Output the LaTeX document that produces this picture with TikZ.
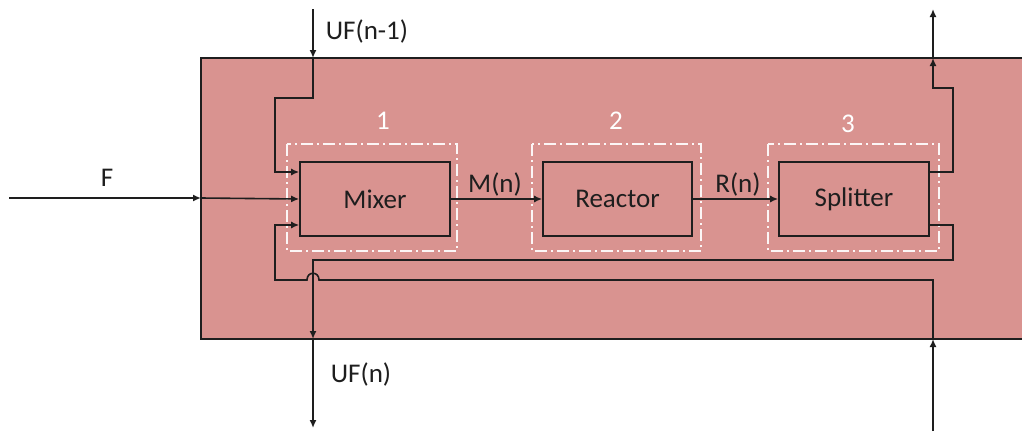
\documentclass[tikz,border=0pt]{standalone}
\usepackage{fontspec}
\setmainfont{Carlito}
\usetikzlibrary{arrows.meta}
\definecolor{boxfill}{RGB}{217,147,144}
\definecolor{ink}{RGB}{30,30,30}
\begin{document}
\begin{tikzpicture}[x=1pt,y=-1pt,
  conn/.style={draw=ink,line width=1.6pt},
  arr/.style={conn,-{Latex[length=8pt,width=7pt]}},
  block/.style={draw=ink,line width=1.6pt,minimum height=74pt,inner sep=0pt,font=\fontsize{27}{29}\selectfont,text=ink},
  grp/.style={draw=white!92!boxfill,line width=1.4pt,dash pattern=on 12pt off 4pt on 2pt off 4pt},
  lbl/.style={font=\fontsize{27}{29}\selectfont,text=ink,inner sep=0pt},
  num/.style={font=\fontsize{27}{29}\selectfont,text=white,inner sep=0pt}]
\useasboundingbox (0,0) rectangle (1022,431);
% background block
\fill[boxfill] (201,58) rectangle (1023,339);
\draw[conn] (1023,58) -- (201,58) -- (201,339) -- (1023,339);
% units
\node[block,minimum width=150pt] (mixer) at (375,199) {Mixer};
\node[block,minimum width=149pt] (reactor) at (617.5,199) {Reactor};
\node[block,minimum width=150pt] (splitter) at (854,199) {Splitter};
\draw[grp] (287,144) rectangle (457,251);
\draw[grp] (532,144) rectangle (701,251);
\draw[grp] (768,144) rectangle (939,251);
\node[num] (n1) at (383,121) {1};
\node[num] (n2) at (616,121) {2};
\node[num] (n3) at (848,124) {3};
% coordinates
\coordinate (ufin) at (313,9);
\coordinate (ufinb) at (313,58);
\coordinate (fin) at (9,198);
\coordinate (finb) at (201,198);
\coordinate (rin) at (933,431);
\coordinate (rinb) at (933,339);
\coordinate (topout) at (933,9);
\coordinate (topoutb) at (933,58);
\coordinate (ufout) at (313,428);
\coordinate (ufoutb) at (313,339);
% UF(n-1) in
\draw[arr] (ufin) -- (ufinb);
\draw[arr] (ufinb) -- (313,98) -- (275,98) -- (275,172) -- (mixer.west |- 0,172);
% F in
\draw[arr] (fin) -- (finb);
\draw[arr] (finb) -- (mixer.west);
% recycle from bottom
\draw[arr] (rin) -- (rinb);
\draw[arr] (rinb) -- (933,280) -- (319,280) .. controls (319,271) and (307,271) .. (307,280) -- (275,280) -- (275,225) -- (mixer.west |- 0,225);
% main line
\draw[arr] (mixer.east) -- (reactor.west);
\draw[arr] (reactor.east) -- (splitter.west);
% splitter top outlet
\draw[arr] (splitter.east |- 0,172) -- (953,172) -- (953,88) -- (933,88) -- (topoutb);
\draw[arr] (topoutb) -- (topout);
% splitter bottom outlet
\draw[arr] (splitter.east |- 0,225) -- (953,225) -- (953,260) -- (313,260) -- (ufoutb);
\draw[arr] (ufoutb) -- (ufout);
% labels
\node[lbl] (lf) at (107,178) {F};
\node[lbl] (lufi) at (367,31) {UF(n-1)};
\node[lbl] (lufo) at (361,374) {UF(n)};
\node[lbl] (lm) at (495,184) {M(n)};
\node[lbl] (lr) at (738,184) {R(n)};
\end{tikzpicture}
\end{document}
